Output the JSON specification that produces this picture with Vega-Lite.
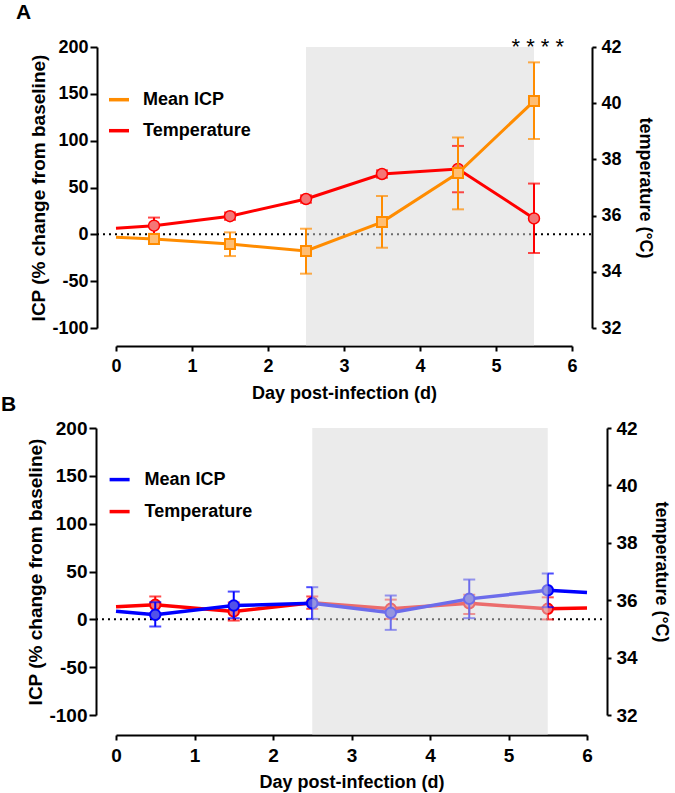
{
  "$schema": "https://vega.github.io/schema/vega-lite/v6.json",
  "padding": {"left": 1, "top": 2, "right": 2, "bottom": 2},
  "config": {
    "font": "Liberation Sans",
    "view": {"stroke": null},
    "axis": {"grid": false, "domainColor": "black", "domainWidth": 2, "tickColor": "black", "tickWidth": 2, "labelFont": "Liberation Sans", "labelFontSize": 18, "labelFontWeight": "bold", "labelColor": "black", "titleFont": "Liberation Sans", "titleFontSize": 18, "titleFontWeight": "bold", "titleColor": "black", "labelOverlap": false, "labelFlush": false},
    "legend": {"labelFont": "Liberation Sans", "labelFontSize": 18, "labelFontWeight": "bold", "labelColor": "black", "padding": 0}
  },
  "bounds": "flush",
  "spacing": 100,
  "resolve": {"scale": {"color": "independent"}, "legend": {"color": "independent"}},
  "vconcat": [
    {
      "width": 456, "height": 281,
      "title": {"text": "A", "anchor": "start", "frame": "group", "dx": -100, "fontSize": 21, "fontWeight": "bold", "font": "Liberation Sans", "color": "black", "offset": 13},
      "data": {"values": [
        {"day": 0, "series": "Mean ICP", "v": -3.2, "pt": 0},
        {"day": 0.5, "series": "Mean ICP", "v": -5.0, "lo": -9, "hi": -1, "pt": 1},
        {"day": 1.5, "series": "Mean ICP", "v": -10.4, "lo": -23.2, "hi": 2.1, "pt": 1},
        {"day": 2.5, "series": "Mean ICP", "v": -17.8, "lo": -42, "hi": 6, "pt": 1},
        {"day": 3.5, "series": "Mean ICP", "v": 13.1, "lo": -14.3, "hi": 40.9, "pt": 1},
        {"day": 4.5, "series": "Mean ICP", "v": 65.4, "lo": 26.7, "hi": 103.4, "pt": 1},
        {"day": 5.5, "series": "Mean ICP", "v": 142.3, "lo": 101.8, "hi": 183.6, "pt": 1},
        {"day": 0, "series": "Temperature", "v": 35.55, "pt": 0},
        {"day": 0.5, "series": "Temperature", "v": 35.64, "lo": 35.35, "hi": 35.93, "pt": 1},
        {"day": 1.5, "series": "Temperature", "v": 35.98, "lo": 35.85, "hi": 36.11, "pt": 1},
        {"day": 2.5, "series": "Temperature", "v": 36.59, "lo": 36.46, "hi": 36.72, "pt": 1},
        {"day": 3.5, "series": "Temperature", "v": 37.48, "lo": 37.35, "hi": 37.61, "pt": 1},
        {"day": 4.5, "series": "Temperature", "v": 37.66, "lo": 36.83, "hi": 38.48, "pt": 1},
        {"day": 5.5, "series": "Temperature", "v": 35.90, "lo": 34.67, "hi": 37.14, "pt": 1}
      ]},
      "encoding": {
        "x": {"field": "day", "type": "quantitative", "scale": {"domain": [0, 6], "nice": false},
          "axis": {"values": [0, 1, 2, 3, 4, 5, 6], "offset": 18, "tickSize": 5, "labelPadding": 6, "title": "Day post-infection (d)", "titlePadding": 9}}
      },
      "resolve": {"scale": {"y": "independent"}},
      "layer": [
        {
          "data": {"values": [{"day": -0.25, "day2": 6.26, "y": 0}]},
          "mark": {"type": "rule", "strokeDash": [2, 4], "strokeWidth": 2, "color": "black"},
          "encoding": {
            "x2": {"field": "day2"},
            "y": {"field": "y", "type": "quantitative", "scale": {"domain": [-100, 200], "nice": false}, "axis": null}
          }
        },
        {
          "data": {"values": [{"day": 2.5, "day2": 5.5, "y": 200, "y2": -119}]},
          "mark": {"type": "rect", "color": "#d8d8d8", "opacity": 0.5},
          "encoding": {
            "x2": {"field": "day2"},
            "y": {"field": "y", "type": "quantitative", "scale": {"domain": [-100, 200], "nice": false}, "axis": null},
            "y2": {"field": "y2"}
          }
        },
        {
          "transform": [{"filter": "datum.series == 'Temperature'"}],
          "layer": [
            {
              "mark": {"type": "line", "strokeWidth": 3, "color": "#ff0000"},
              "encoding": {
                "y": {"field": "v", "type": "quantitative", "scale": {"domain": [32, 42], "nice": false},
                  "axis": {"orient": "right", "values": [32, 34, 36, 38, 40, 42], "offset": 20, "tickSize": 4, "labelPadding": 5, "title": "temperature (°C)", "titlePadding": 14}}
              }
            },
            {
              "transform": [{"filter": "datum.pt == 1"}],
              "mark": {"type": "errorbar", "ticks": true, "size": 12, "thickness": 2, "color": "#ff0000"},
              "encoding": {
                "y": {"field": "lo", "type": "quantitative", "scale": {"domain": [32, 42], "nice": false},
                  "axis": {"orient": "right", "values": [32, 34, 36, 38, 40, 42], "offset": 20, "tickSize": 4, "labelPadding": 5, "title": "temperature (°C)", "titlePadding": 14}},
                "y2": {"field": "hi"}
              }
            },
            {
              "transform": [{"filter": "datum.pt == 1"}],
              "mark": {"type": "point", "shape": "circle", "filled": true, "fill": "#f47676", "stroke": "#ff0000", "strokeWidth": 1.5, "size": 120, "opacity": 1},
              "encoding": {
                "y": {"field": "v", "type": "quantitative", "scale": {"domain": [32, 42], "nice": false},
                  "axis": {"orient": "right", "values": [32, 34, 36, 38, 40, 42], "offset": 20, "tickSize": 4, "labelPadding": 5, "title": "temperature (°C)", "titlePadding": 14}}
              }
            }
          ]
        },
        {
          "transform": [{"filter": "datum.series == 'Mean ICP'"}],
          "layer": [
            {
              "mark": {"type": "line", "strokeWidth": 3},
              "encoding": {
                "y": {"field": "v", "type": "quantitative", "scale": {"domain": [-100, 200], "nice": false},
                  "axis": {"orient": "left", "values": [-100, -50, 0, 50, 100, 150, 200], "labelExpr": "'' + datum.value", "offset": 19, "tickSize": 7, "labelPadding": 2, "title": "ICP (% change from baseline)", "titleFontSize": 19, "titlePadding": 3}},
                "color": {"field": "series", "type": "nominal", "scale": {"domain": ["Mean ICP", "Temperature"], "range": ["#ff8c00", "#ff0000"]},
                  "legend": {"orient": "none", "legendX": -9, "legendY": 40.7, "title": null, "symbolType": "stroke", "symbolSize": 400, "symbolStrokeWidth": 3.5, "rowPadding": 10, "labelOffset": 12}}
              }
            },
            {
              "transform": [{"filter": "datum.pt == 1"}],
              "mark": {"type": "errorbar", "ticks": true, "size": 12, "thickness": 2, "color": "#ff8c00"},
              "encoding": {
                "y": {"field": "lo", "type": "quantitative", "scale": {"domain": [-100, 200], "nice": false},
                  "axis": {"orient": "left", "values": [-100, -50, 0, 50, 100, 150, 200], "labelExpr": "'' + datum.value", "offset": 19, "tickSize": 7, "labelPadding": 2, "title": "ICP (% change from baseline)", "titleFontSize": 19, "titlePadding": 3}},
                "y2": {"field": "hi"}
              }
            },
            {
              "transform": [{"filter": "datum.pt == 1"}],
              "mark": {"type": "point", "shape": "square", "filled": true, "fill": "#ffbe73", "stroke": "#ff8c00", "strokeWidth": 2, "size": 100, "opacity": 1},
              "encoding": {
                "y": {"field": "v", "type": "quantitative", "scale": {"domain": [-100, 200], "nice": false},
                  "axis": {"orient": "left", "values": [-100, -50, 0, 50, 100, 150, 200], "labelExpr": "'' + datum.value", "offset": 19, "tickSize": 7, "labelPadding": 2, "title": "ICP (% change from baseline)", "titleFontSize": 19, "titlePadding": 3}}
              }
            }
          ]
        },
        {
          "data": {"values": [{"day": 5.55, "y": 192, "label": "* * * *"}]},
          "mark": {"type": "text", "fontSize": 22, "baseline": "alphabetic", "align": "center", "color": "black"},
          "encoding": {
            "y": {"field": "y", "type": "quantitative", "scale": {"domain": [-100, 200], "nice": false}, "axis": null},
            "text": {"field": "label"}
          }
        }
      ]
    },
    {
      "width": 471, "height": 287,
      "title": {"text": "B", "anchor": "start", "frame": "group", "dx": -115, "fontSize": 21, "fontWeight": "bold", "font": "Liberation Sans", "color": "black", "offset": 4},
      "data": {"values": [
        {"day": 0, "series": "Mean ICP", "v": 8.5, "pt": 0},
        {"day": 0.5, "series": "Mean ICP", "v": 4.7, "lo": -7.5, "hi": 17.9, "pt": 1},
        {"day": 1.5, "series": "Mean ICP", "v": 14.4, "lo": 1.2, "hi": 29, "pt": 1},
        {"day": 2.5, "series": "Mean ICP", "v": 16.8, "lo": 0.5, "hi": 33.6, "pt": 1},
        {"day": 3.5, "series": "Mean ICP", "v": 6.8, "lo": -11, "hi": 24.9, "pt": 1},
        {"day": 4.5, "series": "Mean ICP", "v": 21.4, "lo": 1.2, "hi": 41.6, "pt": 1},
        {"day": 5.5, "series": "Mean ICP", "v": 30.4, "lo": 12.7, "hi": 47.9, "pt": 1},
        {"day": 6, "series": "Mean ICP", "v": 28, "pt": 0},
        {"day": 0, "series": "Temperature", "v": 35.77, "pt": 0},
        {"day": 0.5, "series": "Temperature", "v": 35.84, "lo": 35.55, "hi": 36.13, "pt": 1},
        {"day": 1.5, "series": "Temperature", "v": 35.61, "lo": 35.29, "hi": 35.92, "pt": 1},
        {"day": 2.5, "series": "Temperature", "v": 35.91, "lo": 35.70, "hi": 36.13, "pt": 1},
        {"day": 3.5, "series": "Temperature", "v": 35.70, "lo": 35.35, "hi": 36.02, "pt": 1},
        {"day": 4.5, "series": "Temperature", "v": 35.89, "lo": 35.52, "hi": 36.19, "pt": 1},
        {"day": 5.5, "series": "Temperature", "v": 35.70, "lo": 35.33, "hi": 36.10, "pt": 1},
        {"day": 6, "series": "Temperature", "v": 35.73, "pt": 0}
      ]},
      "encoding": {
        "x": {"field": "day", "type": "quantitative", "scale": {"domain": [0, 6], "nice": false},
          "axis": {"values": [0, 1, 2, 3, 4, 5, 6], "offset": 20, "tickSize": 5, "labelPadding": 6, "labelFontSize": 19, "title": "Day post-infection (d)", "titlePadding": 8}}
      },
      "resolve": {"scale": {"y": "independent"}},
      "layer": [
        {
          "data": {"values": [{"day": -0.255, "day2": 6.2, "y": 0}]},
          "mark": {"type": "rule", "strokeDash": [2, 4], "strokeWidth": 2, "color": "black"},
          "encoding": {
            "x2": {"field": "day2"},
            "y": {"field": "y", "type": "quantitative", "scale": {"domain": [-100, 200], "nice": false}, "axis": null}
          }
        },
        {
          "transform": [{"filter": "datum.series == 'Temperature'"}],
          "layer": [
            {
              "mark": {"type": "line", "strokeWidth": 3.5, "color": "#ff0000"},
              "encoding": {
                "y": {"field": "v", "type": "quantitative", "scale": {"domain": [32, 42], "nice": false},
                  "axis": {"orient": "right", "values": [32, 34, 36, 38, 40, 42], "offset": 20, "tickSize": 4, "labelPadding": 5, "labelFontSize": 19, "title": "temperature (°C)", "titlePadding": 14}}
              }
            },
            {
              "transform": [{"filter": "datum.pt == 1"}],
              "mark": {"type": "errorbar", "ticks": true, "size": 12, "thickness": 2, "color": "#ff0000"},
              "encoding": {
                "y": {"field": "lo", "type": "quantitative", "scale": {"domain": [32, 42], "nice": false},
                  "axis": {"orient": "right", "values": [32, 34, 36, 38, 40, 42], "offset": 20, "tickSize": 4, "labelPadding": 5, "labelFontSize": 19, "title": "temperature (°C)", "titlePadding": 14}},
                "y2": {"field": "hi"}
              }
            },
            {
              "transform": [{"filter": "datum.pt == 1"}],
              "mark": {"type": "point", "shape": "circle", "filled": true, "fill": "#f47676", "stroke": "#ff0000", "strokeWidth": 2, "size": 110, "opacity": 1},
              "encoding": {
                "y": {"field": "v", "type": "quantitative", "scale": {"domain": [32, 42], "nice": false},
                  "axis": {"orient": "right", "values": [32, 34, 36, 38, 40, 42], "offset": 20, "tickSize": 4, "labelPadding": 5, "labelFontSize": 19, "title": "temperature (°C)", "titlePadding": 14}}
              }
            }
          ]
        },
        {
          "transform": [{"filter": "datum.series == 'Mean ICP'"}],
          "layer": [
            {
              "mark": {"type": "line", "strokeWidth": 3.5},
              "encoding": {
                "y": {"field": "v", "type": "quantitative", "scale": {"domain": [-100, 200], "nice": false},
                  "axis": {"orient": "left", "values": [-100, -50, 0, 50, 100, 150, 200], "labelExpr": "'' + datum.value", "offset": 20, "tickSize": 7, "labelPadding": 2, "labelFontSize": 19, "title": "ICP (% change from baseline)", "titleFontSize": 19, "titlePadding": 3}},
                "color": {"field": "series", "type": "nominal", "scale": {"domain": ["Mean ICP", "Temperature"], "range": ["#0000ff", "#ff0000"]},
                  "legend": {"orient": "none", "legendX": -8.4, "legendY": 39.6, "title": null, "symbolType": "stroke", "symbolSize": 400, "symbolStrokeWidth": 3.5, "rowPadding": 11, "labelOffset": 13}}
              }
            },
            {
              "transform": [{"filter": "datum.pt == 1"}],
              "mark": {"type": "errorbar", "ticks": true, "size": 12, "thickness": 2, "color": "#0000ff"},
              "encoding": {
                "y": {"field": "lo", "type": "quantitative", "scale": {"domain": [-100, 200], "nice": false},
                  "axis": {"orient": "left", "values": [-100, -50, 0, 50, 100, 150, 200], "labelExpr": "'' + datum.value", "offset": 20, "tickSize": 7, "labelPadding": 2, "labelFontSize": 19, "title": "ICP (% change from baseline)", "titleFontSize": 19, "titlePadding": 3}},
                "y2": {"field": "hi"}
              }
            },
            {
              "transform": [{"filter": "datum.pt == 1"}],
              "mark": {"type": "point", "shape": "circle", "filled": true, "fill": "#5252e8", "stroke": "#0000ff", "strokeWidth": 2, "size": 110, "opacity": 1},
              "encoding": {
                "y": {"field": "v", "type": "quantitative", "scale": {"domain": [-100, 200], "nice": false},
                  "axis": {"orient": "left", "values": [-100, -50, 0, 50, 100, 150, 200], "labelExpr": "'' + datum.value", "offset": 20, "tickSize": 7, "labelPadding": 2, "labelFontSize": 19, "title": "ICP (% change from baseline)", "titleFontSize": 19, "titlePadding": 3}}
              }
            }
          ]
        },
        {
          "data": {"values": [{"day": 2.5, "day2": 5.5, "y": 200, "y2": -121}]},
          "mark": {"type": "rect", "color": "#d8d8d8", "opacity": 0.5},
          "encoding": {
            "x2": {"field": "day2"},
            "y": {"field": "y", "type": "quantitative", "scale": {"domain": [-100, 200], "nice": false}, "axis": null},
            "y2": {"field": "y2"}
          }
        }
      ]
    }
  ]
}
